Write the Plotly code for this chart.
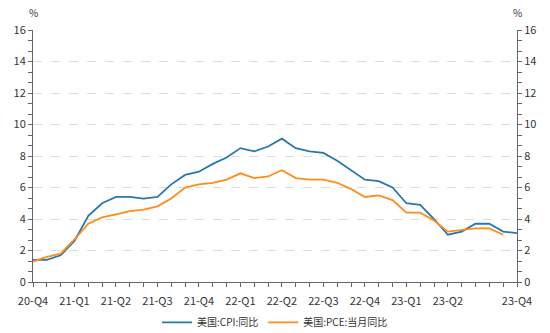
import plotly.graph_objects as go

months = ["2020-12", "2021-01", "2021-02", "2021-03", "2021-04", "2021-05", "2021-06",
          "2021-07", "2021-08", "2021-09", "2021-10", "2021-11", "2021-12",
          "2022-01", "2022-02", "2022-03", "2022-04", "2022-05", "2022-06",
          "2022-07", "2022-08", "2022-09", "2022-10", "2022-11", "2022-12",
          "2023-01", "2023-02", "2023-03", "2023-04", "2023-05", "2023-06",
          "2023-07", "2023-08", "2023-09", "2023-10", "2023-11"]

cpi = [1.4, 1.4, 1.7, 2.6, 4.2, 5.0, 5.4, 5.4, 5.3, 5.4, 6.2, 6.8, 7.0,
       7.5, 7.9, 8.5, 8.3, 8.6, 9.1, 8.5, 8.3, 8.2, 7.7, 7.1, 6.5,
       6.4, 6.0, 5.0, 4.9, 4.0, 3.0, 3.2, 3.7, 3.7, 3.2, 3.1]

pce = [1.3, 1.6, 1.8, 2.7, 3.7, 4.1, 4.3, 4.5, 4.6, 4.8, 5.3, 6.0, 6.2,
       6.3, 6.5, 6.9, 6.6, 6.7, 7.1, 6.6, 6.5, 6.5, 6.3, 5.9, 5.4,
       5.5, 5.2, 4.4, 4.4, 3.9, 3.2, 3.3, 3.4, 3.4, 3.0]

tick_labels = {"2020-12": "20-Q4", "2021-03": "21-Q1", "2021-06": "21-Q2",
               "2021-09": "21-Q3", "2021-12": "21-Q4", "2022-03": "22-Q1",
               "2022-06": "22-Q2", "2022-09": "22-Q3", "2022-12": "22-Q4",
               "2023-03": "23-Q1", "2023-06": "23-Q2", "2023-11": "23-Q4"}

cpi_name = "美国:CPI:同比"
pce_name = "美国:PCE:当月同比"

FONT = "Noto Sans CJK SC, Microsoft YaHei, sans-serif"
AXIS_COLOR = "#666666"
TEXT_COLOR = "#333333"

fig = go.Figure()
fig.add_trace(go.Scatter(x=months, y=cpi, name=cpi_name, mode="lines",
                         line=dict(color="#2878ac", width=1.8)))
fig.add_trace(go.Scatter(x=months[:len(pce)], y=pce, name=pce_name, mode="lines",
                         line=dict(color="#ff8c1a", width=1.8)))
# invisible trace for right axis
fig.add_trace(go.Scatter(x=months, y=cpi, yaxis="y2", mode="lines",
                         line=dict(width=0), showlegend=False, hoverinfo="skip",
                         opacity=0))

yaxis_common = dict(
    range=[0, 16], tickvals=list(range(0, 17, 2)),
    showline=True, linecolor=AXIS_COLOR, linewidth=1,
    ticks="outside", ticklen=4, tickcolor=AXIS_COLOR, tickwidth=1,
    tickfont=dict(size=11, color=TEXT_COLOR, family=FONT),
    zeroline=False, fixedrange=True, automargin=False,
    minor=dict(dtick=2 / 3, tick0=0, ticks="outside", ticklen=4,
               tickcolor=AXIS_COLOR, showgrid=False),
)

fig.update_layout(
    width=550, height=333,
    margin=dict(l=33.3, r=32.7, t=30, b=51.3),
    paper_bgcolor="white", plot_bgcolor="white",
    font=dict(family=FONT, color=TEXT_COLOR, size=11),
    showlegend=True,
    legend=dict(orientation="h", x=0.5, xanchor="center",
                yref="container", y=0.032, yanchor="middle",
                font=dict(size=10, color=TEXT_COLOR, family=FONT),
                itemwidth=30, traceorder="normal"),
    xaxis=dict(
        type="category", range=[0, len(months) - 1],
        tickvals=months, ticktext=[tick_labels.get(m, "") for m in months],
        showline=True, linecolor=AXIS_COLOR, linewidth=1,
        ticks="outside", ticklen=4, tickcolor=AXIS_COLOR, tickwidth=1,
        tickangle=0, showgrid=False, zeroline=False, ticklabelstandoff=5,
        automargin=False,
        tickfont=dict(size=11, color=TEXT_COLOR, family=FONT),
    ),
    yaxis=dict(**yaxis_common, showgrid=True, gridcolor="#dddddd",
               griddash="dash", gridwidth=1, side="left"),
    yaxis2=dict(**yaxis_common, showgrid=False, overlaying="y", side="right",
                matches="y"),
)

fig.add_annotation(text="%", xref="paper", yref="paper", x=0, y=1,
                   xanchor="center", yanchor="bottom", yshift=8, showarrow=False,
                   font=dict(size=10, color=TEXT_COLOR, family=FONT))
fig.add_annotation(text="%", xref="paper", yref="paper", x=1, y=1,
                   xanchor="center", yanchor="bottom", yshift=8, showarrow=False,
                   font=dict(size=10, color=TEXT_COLOR, family=FONT))

fig.write_html("out.html")
